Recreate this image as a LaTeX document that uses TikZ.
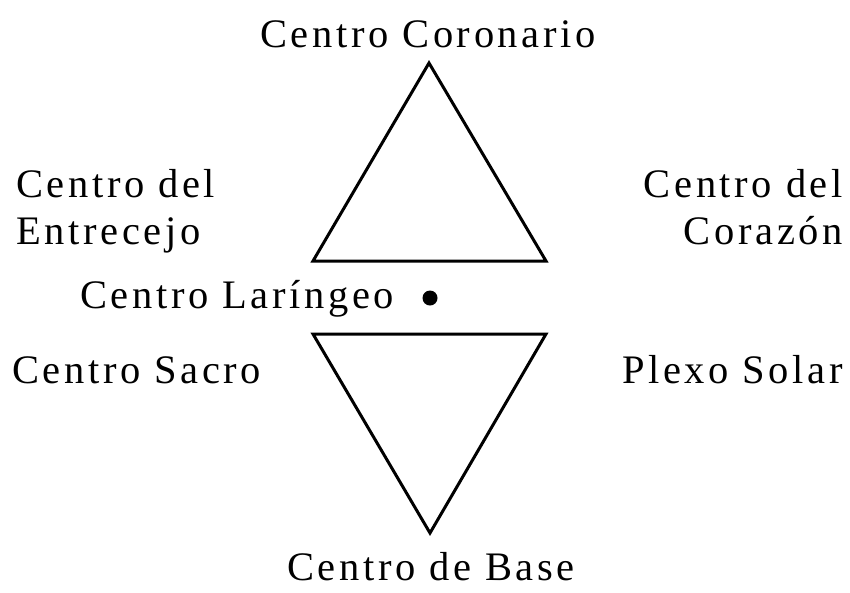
\documentclass[tikz,border=0pt]{standalone}
\usepackage{fontspec}
\setmainfont{Liberation Serif}[LetterSpace=9]
\begin{document}
\begin{tikzpicture}[x=1pt,y=-1pt,
  lbl/.style={inner sep=0pt, font=\fontsize{40.5}{47}\selectfont},
  tri/.style={draw, line width=3pt, line join=miter}]
\useasboundingbox (0,0) rectangle (850,592);
% upper triangle
\coordinate (ua) at (429,63);
\coordinate (ul) at (313,261);
\coordinate (ur) at (546,261);
\draw[tri] (ua) -- (ul) -- (ur) -- cycle;
% lower triangle
\coordinate (ll) at (313,334);
\coordinate (lr) at (546,334);
\coordinate (lb) at (430,533);
\draw[tri] (ll) -- (lr) -- (lb) -- cycle;
% labels
\node[lbl, anchor=base] (coron) at (428,47) {Centro Coronario};
\node[lbl, anchor=north west, align=left] (entre) at (16,169) {Centro del\\Entrecejo};
\node[lbl, anchor=north east, align=right] (coraz) at (843,169) {Centro del\\Corazón};
\node[lbl, anchor=base west] (laring) at (80,308) {Centro Laríngeo};
\node[circle, fill, inner sep=0pt, minimum size=15pt] (dot) at (430,298) {};
\node[lbl, anchor=base west] (sacro) at (12,383) {Centro Sacro};
\node[lbl, anchor=base east] (plexo) at (843,383) {Plexo Solar};
\node[lbl, anchor=base] (basec) at (431,580) {Centro de Base};
\end{tikzpicture}
\end{document}
